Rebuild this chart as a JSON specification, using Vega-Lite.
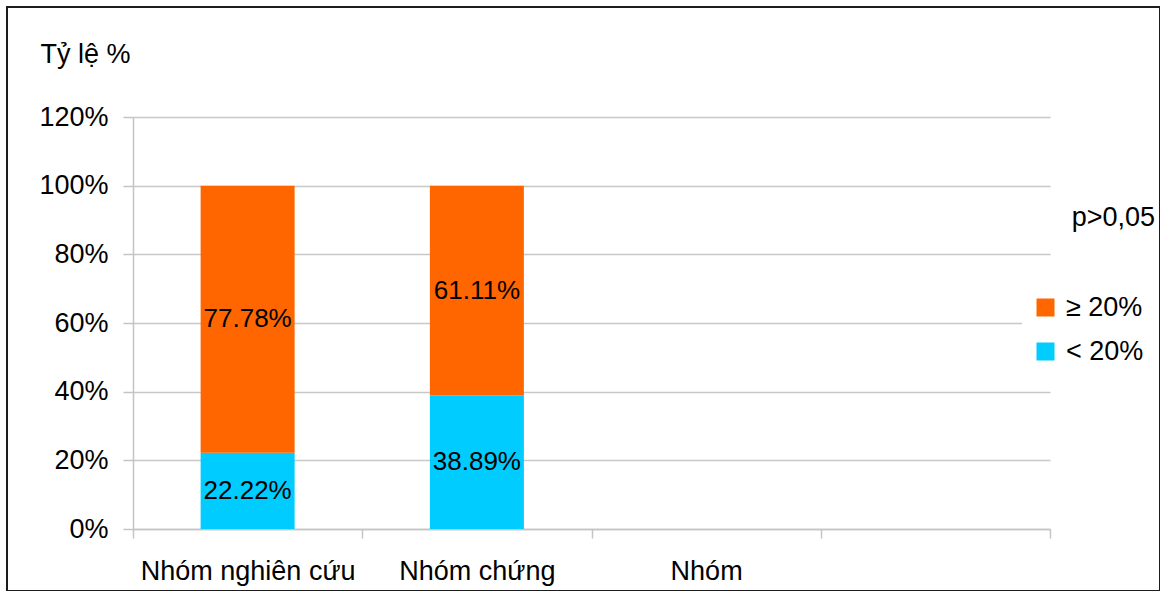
{
  "$schema": "https://vega.github.io/schema/vega-lite/v6.json",
  "width": 1153,
  "height": 584,
  "autosize": "none",
  "padding": {"left": 7, "top": 7, "right": 0, "bottom": 0},
  "background": "white",
  "config": {
    "font": "Liberation Sans",
    "view": {"stroke": "#1c1c1c", "strokeWidth": 2},
    "axis": {
      "labelFont": "Liberation Sans",
      "titleFont": "Liberation Sans",
      "labelFontSize": 27,
      "labelColor": "#000000",
      "labelLimit": 400,
      "titleFontSize": 27,
      "titleFontWeight": "normal",
      "titleColor": "#000000",
      "domainColor": "#c4c4c4",
      "domainWidth": 1.5,
      "tickColor": "#c4c4c4",
      "tickWidth": 1.5,
      "gridColor": "#c8c8c8",
      "gridWidth": 1.5
    },
    "legend": {
      "labelFont": "Liberation Sans",
      "labelFontSize": 27,
      "labelColor": "#000000"
    }
  },
  "title": {
    "text": "p>0,05",
    "anchor": "end",
    "frame": "group",
    "orient": "top",
    "offset": 0,
    "baseline": "alphabetic",
    "fontSize": 27,
    "fontWeight": "normal",
    "font": "Liberation Sans",
    "color": "#000000",
    "dx": -5,
    "dy": 246
  },
  "data": {
    "values": [
      {"nhom": "Nhóm nghiên cứu", "muc": "< 20%", "ty_le": 0.2222},
      {"nhom": "Nhóm nghiên cứu", "muc": "≥ 20%", "ty_le": 0.7778},
      {"nhom": "Nhóm chứng", "muc": "< 20%", "ty_le": 0.3889},
      {"nhom": "Nhóm chứng", "muc": "≥ 20%", "ty_le": 0.6111}
    ]
  },
  "transform": [
    {
      "stack": "ty_le",
      "groupby": ["nhom"],
      "sort": [{"field": "muc", "order": "ascending"}],
      "as": ["y0", "y1"]
    },
    {"calculate": "(datum.y0 + datum.y1) / 2", "as": "giua"}
  ],
  "encoding": {
    "x": {
      "field": "nhom",
      "type": "nominal",
      "sort": null,
      "scale": {
        "domain": ["Nhóm nghiên cứu", "Nhóm chứng", "Nhóm", " "],
        "range": [126, 1043],
        "paddingInner": 0,
        "paddingOuter": 0
      },
      "axis": {
        "title": null,
        "orient": "bottom",
        "offset": -62,
        "tickBand": "extent",
        "tickSize": 9,
        "labelAngle": 0,
        "labelBaseline": "alphabetic",
        "labelPadding": 41,
        "grid": false
      }
    }
  },
  "layer": [
    {
      "mark": {"type": "bar", "width": {"band": 0.41}},
      "encoding": {
        "y": {
          "field": "y1",
          "type": "quantitative",
          "scale": {"domain": [0, 1.2], "range": [522, 110], "nice": false, "zero": true},
          "axis": {
            "orient": "left",
            "offset": -126,
            "values": [0, 0.2, 0.4, 0.6, 0.8, 1.0, 1.2],
            "format": ".0%",
            "tickSize": 10,
            "labelPadding": 15,
            "grid": true,
            "title": "Tỷ lệ %",
            "titleAngle": 0,
            "titleAlign": "left",
            "titleBaseline": "alphabetic",
            "titleX": -93,
            "titleY": 55
          }
        },
        "y2": {"field": "y0"},
        "color": {
          "field": "muc",
          "type": "nominal",
          "scale": {"domain": ["≥ 20%", "< 20%"], "range": ["#FF6600", "#00CCFF"]},
          "legend": {
            "title": null,
            "orient": "none",
            "legendX": 1015,
            "legendY": 277,
            "padding": 10,
            "fillColor": "#ffffff",
            "symbolType": "square",
            "symbolSize": 324,
            "symbolStrokeWidth": 0,
            "labelOffset": 7,
            "rowPadding": 16
          }
        }
      }
    },
    {
      "mark": {
        "type": "text",
        "fontSize": 26,
        "font": "Liberation Sans",
        "color": "#000000",
        "align": "center",
        "baseline": "middle"
      },
      "encoding": {
        "y": {"field": "giua", "type": "quantitative"},
        "text": {"field": "ty_le", "type": "quantitative", "format": ".2%"}
      }
    }
  ]
}
